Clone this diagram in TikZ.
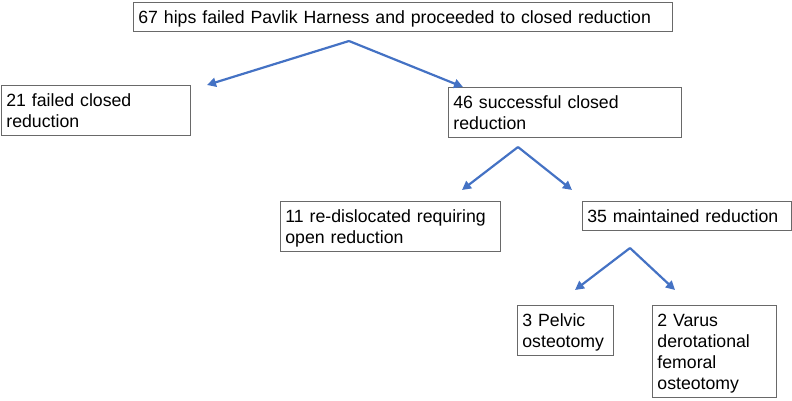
\documentclass[tikz,border=0pt]{standalone}
\usepackage{fontspec}
\setmainfont{Liberation Sans}
\usetikzlibrary{arrows.meta}
\definecolor{flowblue}{RGB}{68,114,196}
\definecolor{boxgray}{RGB}{105,105,105}
\newcommand\boxstrut{\rule[-4pt]{0pt}{21pt}}

\begin{document}
\begin{tikzpicture}[x=1pt,y=-1pt,
  box/.style={draw=boxgray, line width=0.8pt, anchor=north west, align=left,
    inner xsep=5pt, inner ysep=4pt, font=\fontsize{17.7}{21}\selectfont,
    execute at begin node=\boxstrut, execute at end node=\boxstrut},
  branch/.style={draw=flowblue, line width=2.2pt, -{Triangle[length=9pt,width=9pt]}}]
  \useasboundingbox (0,0) rectangle (792,400);

  % boxes
  \node[box, text width=529pt] (hips) at (133,2)
    {67 hips failed Pavlik Harness and proceeded to closed reduction};
  \node[box, text width=179pt] (failed) at (1,85)
    {21 failed closed\\reduction};
  \node[box, text width=223pt] (success) at (448,87)
    {46 successful closed\\reduction};
  \node[box, text width=210pt] (redisl) at (280,201)
    {11 re-dislocated requiring\\open reduction};
  \node[box, text width=199pt] (kept) at (582,201)
    {35 maintained reduction};
  \node[box, text width=86pt] (pelvic) at (517,305)
    {3 Pelvic\\osteotomy};
  \node[box, text width=114pt] (varus) at (652,305)
    {2 Varus\\derotational\\femoral\\osteotomy};

  % split points and arrow ends
  \coordinate (split1) at (349,41);
  \coordinate (split2) at (518,147);
  \coordinate (split3) at (630,248);
  \coordinate (tofailed) at (207,85);
  \coordinate (tosuccess) at (463,87);
  \coordinate (toredisl) at (462,190);
  \coordinate (tokept) at (572,190);
  \coordinate (topelvic) at (575,290);
  \coordinate (tovarus) at (675,290);

  % arrows
  \draw[branch] (split1) -- (tofailed);
  \draw[branch] (split1) -- (tosuccess);
  \draw[branch] (split2) -- (toredisl);
  \draw[branch] (split2) -- (tokept);
  \draw[branch] (split3) -- (topelvic);
  \draw[branch] (split3) -- (tovarus);
\end{tikzpicture}
\end{document}
